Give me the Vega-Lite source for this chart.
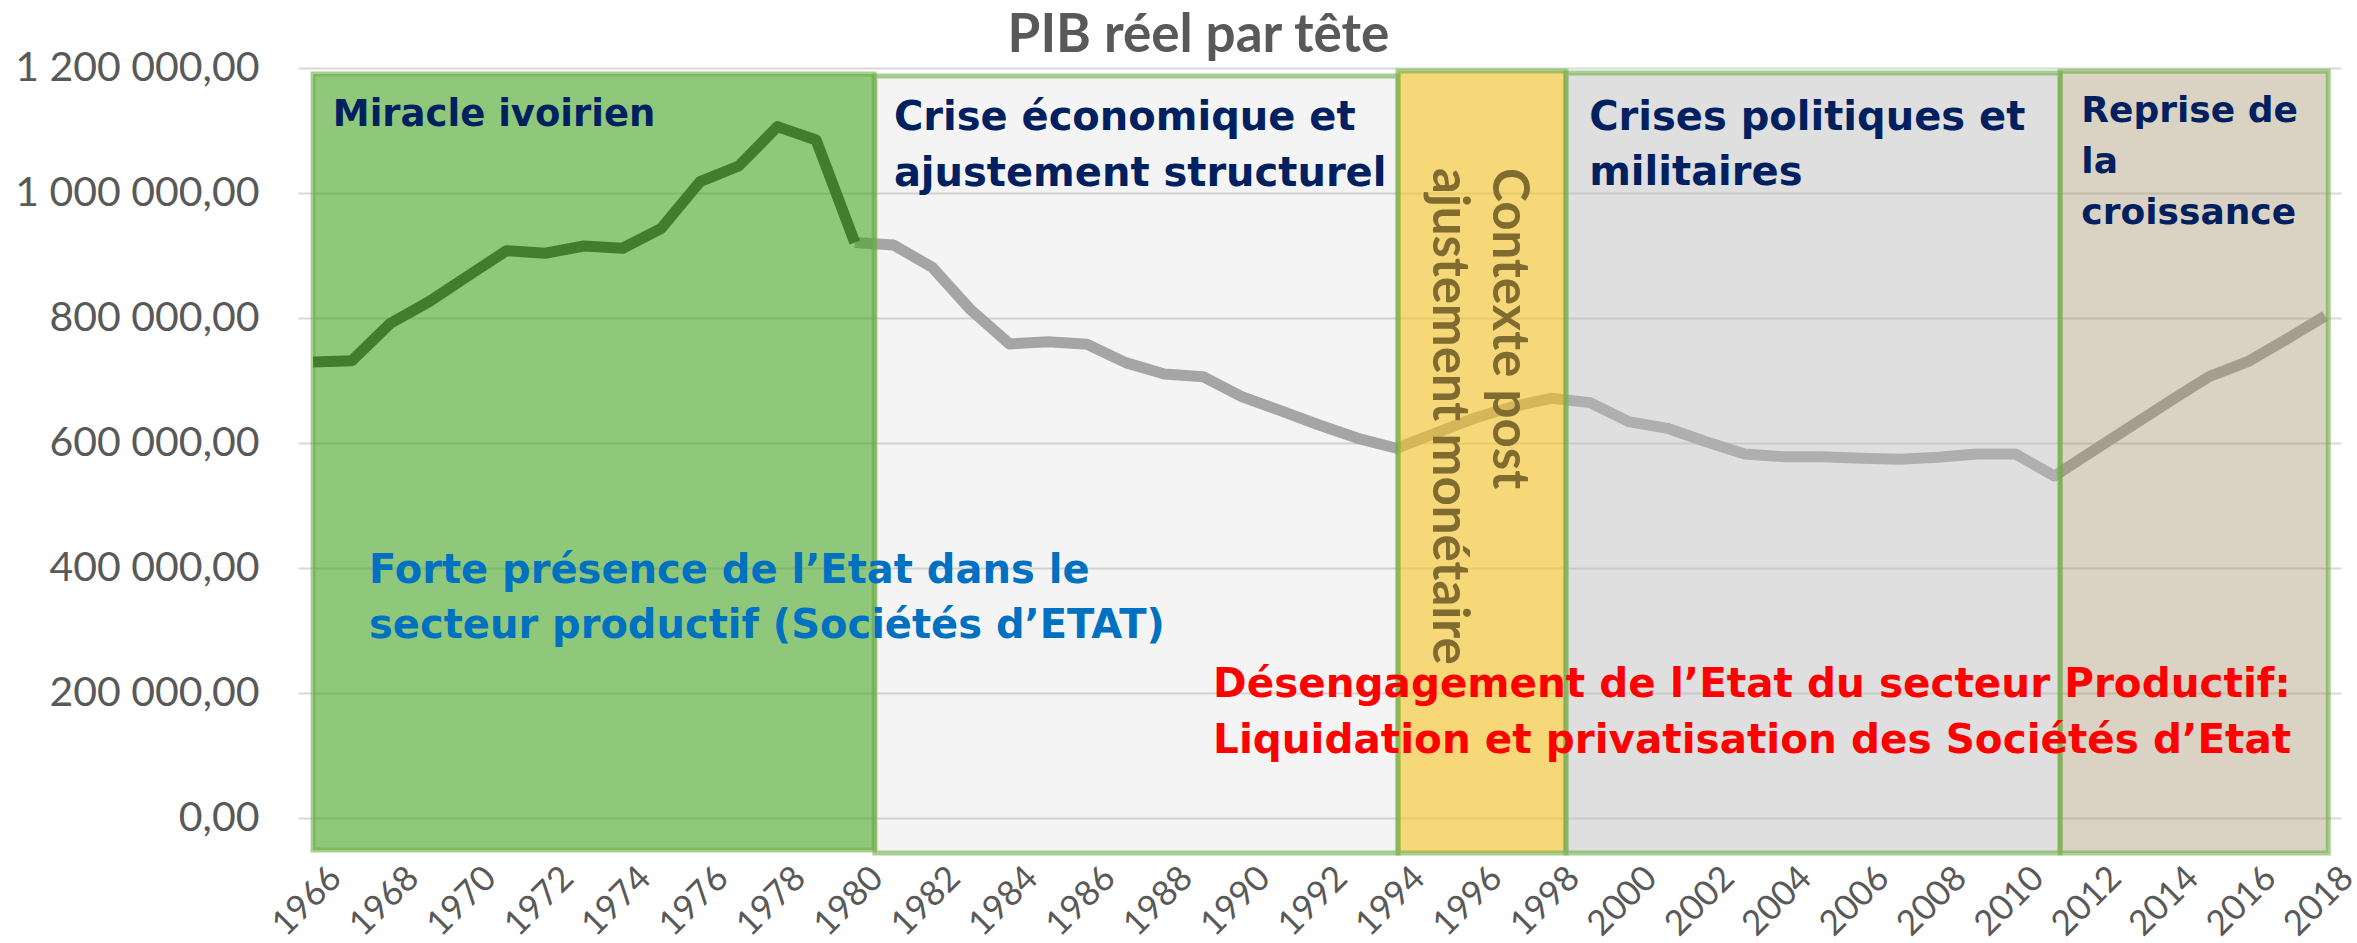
{
  "$schema": "https://vega.github.io/schema/vega-lite/v6.json",
  "width": 2043,
  "height": 785,
  "autosize": {"type": "none"},
  "padding": {"left": 298, "top": 68, "right": 16, "bottom": 90},
  "background": "white",
  "title": {
    "text": "PIB réel par tête",
    "font": "Lato",
    "fontWeight": "bold",
    "fontSize": 53,
    "color": "#595959",
    "anchor": "middle",
    "frame": "group",
    "dx": -121,
    "dy": 24,
    "offset": 8
  },
  "config": {
    "view": {"stroke": null},
    "locale": {"number": {"decimal": ",", "thousands": "\u00a0", "grouping": [3], "currency": ["", "\u00a0€"]}}
  },
  "datasets": {
    "pib": [
      {"year": 1966, "value": 730000, "seg": "a"},
      {"year": 1967, "value": 732000, "seg": "a"},
      {"year": 1968, "value": 791800, "seg": "a"},
      {"year": 1969, "value": 826400, "seg": "a"},
      {"year": 1970, "value": 867400, "seg": "a"},
      {"year": 1971, "value": 907900, "seg": "a"},
      {"year": 1972, "value": 903800, "seg": "a"},
      {"year": 1973, "value": 915400, "seg": "a"},
      {"year": 1974, "value": 911800, "seg": "a"},
      {"year": 1975, "value": 943700, "seg": "a"},
      {"year": 1976, "value": 1018300, "seg": "a"},
      {"year": 1977, "value": 1043300, "seg": "a"},
      {"year": 1978, "value": 1106200, "seg": "a"},
      {"year": 1979, "value": 1084900, "seg": "a"},
      {"year": 1980, "value": 921000, "seg": "a"},
      {"year": 1980, "value": 921000, "seg": "b"},
      {"year": 1981, "value": 917000, "seg": "b"},
      {"year": 1982, "value": 881300, "seg": "b"},
      {"year": 1983, "value": 813100, "seg": "b"},
      {"year": 1984, "value": 758700, "seg": "b"},
      {"year": 1985, "value": 762400, "seg": "b"},
      {"year": 1986, "value": 758200, "seg": "b"},
      {"year": 1987, "value": 728900, "seg": "b"},
      {"year": 1988, "value": 710800, "seg": "b"},
      {"year": 1989, "value": 706500, "seg": "b"},
      {"year": 1990, "value": 674500, "seg": "b"},
      {"year": 1991, "value": 652100, "seg": "b"},
      {"year": 1992, "value": 629200, "seg": "b"},
      {"year": 1993, "value": 607900, "seg": "b"},
      {"year": 1994, "value": 592000, "seg": "b"},
      {"year": 1995, "value": 615900, "seg": "b"},
      {"year": 1996, "value": 639900, "seg": "b"},
      {"year": 1997, "value": 658500, "seg": "b"},
      {"year": 1998, "value": 671900, "seg": "b"},
      {"year": 1999, "value": 665000, "seg": "b"},
      {"year": 2000, "value": 634500, "seg": "b"},
      {"year": 2001, "value": 623900, "seg": "b"},
      {"year": 2002, "value": 602500, "seg": "b"},
      {"year": 2003, "value": 582800, "seg": "b"},
      {"year": 2004, "value": 578600, "seg": "b"},
      {"year": 2005, "value": 578600, "seg": "b"},
      {"year": 2006, "value": 575900, "seg": "b"},
      {"year": 2007, "value": 574300, "seg": "b"},
      {"year": 2008, "value": 577500, "seg": "b"},
      {"year": 2009, "value": 582800, "seg": "b"},
      {"year": 2010, "value": 582800, "seg": "b"},
      {"year": 2011, "value": 547600, "seg": "b"},
      {"year": 2012, "value": 587700, "seg": "b"},
      {"year": 2013, "value": 627600, "seg": "b"},
      {"year": 2014, "value": 667600, "seg": "b"},
      {"year": 2015, "value": 706500, "seg": "b"},
      {"year": 2016, "value": 730400, "seg": "b"},
      {"year": 2017, "value": 766200, "seg": "b"},
      {"year": 2018, "value": 803500, "seg": "b"}
    ],
    "periods": [
      {"name": "Miracle ivoirien", "start": 1966.0, "end": 1980.5, "top": 1190400, "bottom": -50400},
      {"name": "Crise économique", "start": 1980.52, "end": 1994.04, "top": 1187200, "bottom": -55170},
      {"name": "Contexte post ajustement", "start": 1994.04, "end": 1998.38, "top": 1195200, "bottom": -55170},
      {"name": "Crises politiques", "start": 1998.38, "end": 2011.15, "top": 1192000, "bottom": -55170},
      {"name": "Reprise", "start": 2011.15, "end": 2018.08, "top": 1195000, "bottom": -55170}
    ]
  },
  "layer": [
    {
      "data": {"name": "pib"},
      "transform": [{"filter": "datum.seg === 'b'"}],
      "mark": {"type": "line", "color": "#A8A8A8", "strokeWidth": 11, "strokeJoin": "round"},
      "encoding": {
        "x": {
          "field": "year", "type": "quantitative", "title": null,
          "scale": {"domain": [1965.61, 2018.41], "nice": false, "zero": false},
          "axis": {
            "values": [1966,1968,1970,1972,1974,1976,1978,1980,1982,1984,1986,1988,1990,1992,1994,1996,1998,2000,2002,2004,2006,2008,2010,2012,2014,2016,2018],
            "format": "d", "labelAngle": -45, "labelAlign": "right", "labelBaseline": "top",
            "labelOffset": 10, "labelPadding": 7, "grid": false, "domain": false, "ticks": false,
            "labelFont": "Lato", "labelFontSize": 35, "labelColor": "#595959", "labelOverlap": false,
            "labelBound": false, "labelFlush": false
          }
        },
        "y": {
          "field": "value", "type": "quantitative", "title": null,
          "scale": {"domain": [-55170, 1200000], "nice": false, "zero": false},
          "axis": {
            "values": [0, 200000, 400000, 600000, 800000, 1000000, 1200000],
            "format": ",.2f", "grid": true, "gridColor": "#D9D9D9", "gridWidth": 2,
            "domain": false, "ticks": false, "labelFont": "Lato", "labelFontSize": 41,
            "labelColor": "#595959", "labelPadding": 39, "labelLimit": 500
          }
        }
      }
    },
    {
      "data": {"name": "periods"},
      "mark": {"type": "rect", "stroke": "#70AD47", "strokeOpacity": 0.6, "strokeWidth": 5},
      "encoding": {
        "x": {"field": "start", "type": "quantitative", "title": null},
        "x2": {"field": "end"},
        "y": {"field": "top", "type": "quantitative", "title": null},
        "y2": {"field": "bottom"},
        "fill": {
          "field": "name", "type": "nominal", "legend": null,
          "scale": {
            "domain": ["Miracle ivoirien", "Crise économique", "Contexte post ajustement", "Crises politiques", "Reprise"],
            "range": ["rgba(68,163,33,0.6)", "rgba(145,145,145,0.1)", "rgba(240,192,39,0.62)", "rgba(184,184,184,0.45)", "rgba(160,140,99,0.39)"]
          }
        }
      }
    },
    {
      "data": {"name": "pib"},
      "transform": [{"filter": "datum.seg === 'a'"}],
      "mark": {"type": "line", "color": "#437C2D", "strokeWidth": 11, "strokeJoin": "round"},
      "encoding": {
        "x": {"field": "year", "type": "quantitative", "title": null},
        "y": {"field": "value", "type": "quantitative", "title": null}
      }
    },
    {
      "data": {"values": [{"year": 1966.51, "value": 1107300, "label": "Miracle ivoirien"}]},
      "mark": {"type": "text", "align": "left", "baseline": "alphabetic", "font": "DejaVu Sans", "fontWeight": "bold", "fontSize": 37, "color": "#002060"},
      "encoding": {
        "x": {"field": "year", "type": "quantitative", "title": null},
        "y": {"field": "value", "type": "quantitative", "title": null},
        "text": {"field": "label"}
      }
    },
    {
      "data": {"values": [{"year": 1981.01, "value": 1100900, "label": "Crise économique et\najustement structurel"}]},
      "mark": {"type": "text", "align": "left", "baseline": "alphabetic", "lineBreak": "\n", "lineHeight": 56, "font": "DejaVu Sans", "fontWeight": "bold", "fontSize": 40, "color": "#002060"},
      "encoding": {
        "x": {"field": "year", "type": "quantitative", "title": null},
        "y": {"field": "value", "type": "quantitative", "title": null},
        "text": {"field": "label"}
      }
    },
    {
      "data": {"values": [{"year": 1998.98, "value": 1100900, "label": "Crises politiques et\nmilitaires"}]},
      "mark": {"type": "text", "align": "left", "baseline": "alphabetic", "lineBreak": "\n", "lineHeight": 55, "font": "DejaVu Sans", "fontWeight": "bold", "fontSize": 40, "color": "#002060"},
      "encoding": {
        "x": {"field": "year", "type": "quantitative", "title": null},
        "y": {"field": "value", "type": "quantitative", "title": null},
        "text": {"field": "label"}
      }
    },
    {
      "data": {"values": [{"year": 2011.7, "value": 1113700, "label": "Reprise de\nla\ncroissance"}]},
      "mark": {"type": "text", "align": "left", "baseline": "alphabetic", "lineBreak": "\n", "lineHeight": 51, "font": "DejaVu Sans", "fontWeight": "bold", "fontSize": 36, "color": "#002060"},
      "encoding": {
        "x": {"field": "year", "type": "quantitative", "title": null},
        "y": {"field": "value", "type": "quantitative", "title": null},
        "text": {"field": "label"}
      }
    },
    {
      "data": {"values": [{"year": 1996.49, "value": 1040100, "label": "Contexte post\najustement monétaire"}]},
      "mark": {"type": "text", "align": "left", "baseline": "alphabetic", "angle": 90, "lineBreak": "\n", "lineHeight": 60, "font": "Lato", "fontWeight": "bold", "fontSize": 51, "color": "#806C30"},
      "encoding": {
        "x": {"field": "year", "type": "quantitative", "title": null},
        "y": {"field": "value", "type": "quantitative", "title": null},
        "text": {"field": "label"}
      }
    },
    {
      "data": {"values": [{"year": 1967.445, "value": 376600, "label": "Forte présence de l’Etat dans le\nsecteur productif (Sociétés d’ETAT)"}]},
      "mark": {"type": "text", "align": "left", "baseline": "alphabetic", "lineBreak": "\n", "lineHeight": 55, "font": "DejaVu Sans", "fontWeight": "bold", "fontSize": 40, "color": "#0070C0"},
      "encoding": {
        "x": {"field": "year", "type": "quantitative", "title": null},
        "y": {"field": "value", "type": "quantitative", "title": null},
        "text": {"field": "label"}
      }
    },
    {
      "data": {"values": [{"year": 1989.26, "value": 194300, "label": "Désengagement de l’Etat du secteur Productif:\nLiquidation et privatisation des Sociétés d’Etat"}]},
      "mark": {"type": "text", "align": "left", "baseline": "alphabetic", "lineBreak": "\n", "lineHeight": 56, "font": "DejaVu Sans", "fontWeight": "bold", "fontSize": 40.5, "color": "#FF0000"},
      "encoding": {
        "x": {"field": "year", "type": "quantitative", "title": null},
        "y": {"field": "value", "type": "quantitative", "title": null},
        "text": {"field": "label"}
      }
    }
  ]
}
